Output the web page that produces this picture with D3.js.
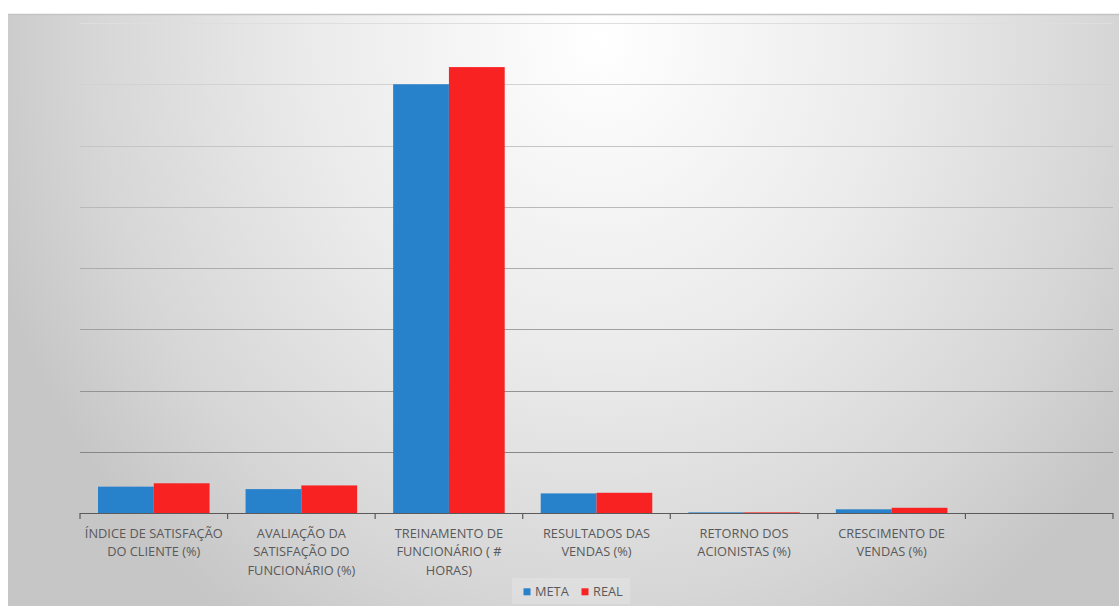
<!DOCTYPE html>
<html>
<head>
<meta charset="utf-8">
<script src="https://cdn.jsdelivr.net/npm/d3@7"></script>
<style>
html,body{margin:0;padding:0;background:#fff;}
svg{display:block;}
</style>
</head>
<body>
<svg id="chart" width="1119" height="606"></svg>
<script>
// ---- data ----
const categories = [
  "ÍNDICE DE SATISFAÇÃO\nDO CLIENTE (%)",
  "AVALIAÇÃO DA\nSATISFAÇÃO DO\nFUNCIONÁRIO (%)",
  "TREINAMENTO DE\nFUNCIONÁRIO ( #\nHORAS)",
  "RESULTADOS DAS\nVENDAS (%)",
  "RETORNO DOS\nACIONISTAS (%)",
  "CRESCIMENTO DE\nVENDAS (%)",
  ""
];
const seriesNames = ["META", "REAL"];
const metaValues = [4.3, 3.9, 70, 3.2, 0.1, 0.6, null];
const realValues = [4.85, 4.5, 72.8, 3.3, 0.1, 0.85, null];
const yTicks = [0, 10, 20, 30, 40, 50, 60, 70, 80];
const colors = {META: "#2781cb", REAL: "#f82222"};

// ---- layout ----
const svg = d3.select("#chart");
const W = 1119, H = 606;
const plot = {left: 80, right: 1113, top: 23, bottom: 513};

const defs = svg.append("defs");
const rg = defs.append("radialGradient").attr("id", "bg")
  .attr("gradientUnits", "userSpaceOnUse")
  .attr("cx", 600).attr("cy", 40).attr("r", 640)
  .attr("gradientTransform", "translate(600,40) scale(1,1.1) translate(-600,-40)");
rg.append("stop").attr("offset", "0%").attr("stop-color", "#ffffff");
rg.append("stop").attr("offset", "45%").attr("stop-color", "#ebebeb");
rg.append("stop").attr("offset", "80%").attr("stop-color", "#d6d6d6");
rg.append("stop").attr("offset", "100%").attr("stop-color", "#c6c6c6");

svg.append("rect").attr("x", 8).attr("y", 14).attr("width", W - 8).attr("height", H - 14)
  .attr("fill", "url(#bg)");
svg.append("line").attr("x1", 8).attr("x2", W).attr("y1", 14.5).attr("y2", 14.5)
  .attr("stroke", "#c4c4c4").attr("stroke-width", 1.5);

const x = d3.scaleBand().domain(categories).range([plot.left, plot.right]).padding(0);
const bw = x.bandwidth();
const xs = d3.scaleBand().domain(seriesNames).range([bw * 0.122, bw * 0.878]).padding(0);
const y = d3.scaleLinear().domain([0, 80]).range([plot.bottom, plot.top]);

const gridColor = d3.scaleLinear().domain([plot.top, plot.bottom]).range(["#dedede", "#7a7a7a"]);

// gridlines
svg.append("g").selectAll("line").data(yTicks.slice(1)).join("line")
  .attr("x1", plot.left).attr("x2", plot.right)
  .attr("y1", d => Math.round(y(d)) + 0.5).attr("y2", d => Math.round(y(d)) + 0.5)
  .attr("stroke", d => gridColor(y(d))).attr("stroke-width", 1.2);

// bars
const rows = categories.map((c, i) => ({c, META: metaValues[i], REAL: realValues[i]}));
const groups = svg.append("g").selectAll("g").data(rows).join("g")
  .attr("transform", d => `translate(${x(d.c)},0)`);
groups.selectAll("rect").data(d => seriesNames.map(s => ({s, v: d[s]})).filter(e => e.v != null))
  .join("rect")
  .attr("x", d => xs(d.s)).attr("width", xs.bandwidth())
  .attr("y", d => y(d.v)).attr("height", d => y(0) - y(d.v))
  .attr("fill", d => colors[d.s]);

// axis line + ticks
const axisG = svg.append("g");
axisG.append("line").attr("x1", plot.left).attr("x2", plot.right)
  .attr("y1", plot.bottom + 0.5).attr("y2", plot.bottom + 0.5)
  .attr("stroke", "#5a5a5a").attr("stroke-width", 1.2);
const tickPos = categories.map(c => x(c)).concat([plot.right]);
axisG.selectAll("line.tick").data(tickPos).join("line").attr("class", "tick")
  .attr("x1", d => d).attr("x2", d => d)
  .attr("y1", plot.bottom).attr("y2", plot.bottom + 6)
  .attr("stroke", "#5a5a5a").attr("stroke-width", 1.2);

// category labels
const labels = svg.append("g").selectAll("text").data(categories).join("text")
  .attr("x", d => x(d) + bw / 2).attr("y", 537.5)
  .attr("text-anchor", "middle")
  .attr("font-family", "'Open Sans', sans-serif").attr("font-size", 12.8)
  .attr("fill", "#595959");
labels.selectAll("tspan").data(d => d ? d.split("\n") : []).join("tspan")
  .attr("x", function () { return this.parentNode.getAttribute("x"); })
  .attr("dy", (d, i) => i === 0 ? 0 : 18.5)
  .text(d => d);

// legend
const legendG = svg.append("g");
legendG.append("rect").attr("x", 512).attr("y", 578).attr("width", 118).attr("height", 26)
  .attr("fill", "#ffffff").attr("opacity", 0.18);
const legX = {META: 523.5, REAL: 581.5};
seriesNames.forEach(s => {
  legendG.append("rect").attr("x", legX[s]).attr("y", 588.3).attr("width", 7).attr("height", 7)
    .attr("fill", colors[s]);
  legendG.append("text").attr("x", legX[s] + 11.5).attr("y", 595.7)
    .attr("font-family", "'Open Sans', sans-serif").attr("font-size", 12.8)
    .attr("fill", "#595959").text(s);
});
</script>
</body>
</html>
